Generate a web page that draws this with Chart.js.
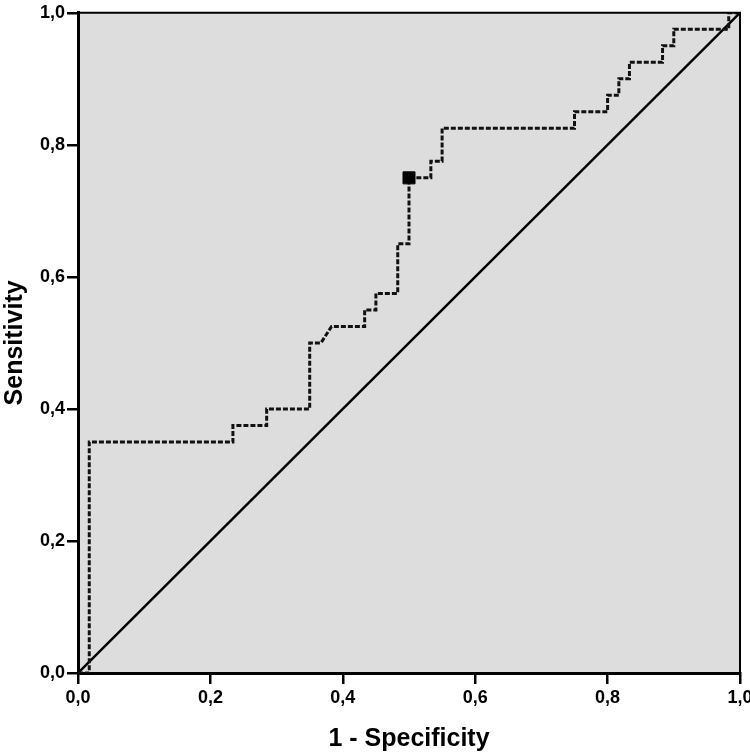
<!DOCTYPE html>
<html>
<head>
<meta charset="utf-8">
<script src="https://cdn.jsdelivr.net/npm/chart.js@4"></script>
<style>
	html, body { margin: 0; padding: 0; background: #fff; }
	#wrap { width: 750px; height: 755px; }
</style>
</head>
<body>
<div id="wrap"><canvas id="roc"></canvas></div>
<script>
// ROC curve coordinates (1 - specificity, sensitivity)
const rocFpr = [0, 0.017, 0.017, 0.234, 0.234, 0.285, 0.285, 0.35, 0.35, 0.367, 0.383, 0.433, 0.433, 0.45, 0.45, 0.483, 0.483, 0.5, 0.5, 0.533, 0.533, 0.55, 0.55, 0.75, 0.75, 0.8, 0.8, 0.817, 0.817, 0.833, 0.833, 0.883, 0.883, 0.9, 0.9, 0.983, 0.983, 1];
const rocTpr = [0, 0, 0.35, 0.35, 0.375, 0.375, 0.4, 0.4, 0.5, 0.5, 0.525, 0.525, 0.55, 0.55, 0.575, 0.575, 0.65, 0.65, 0.75, 0.75, 0.775, 0.775, 0.825, 0.825, 0.85, 0.85, 0.875, 0.875, 0.9, 0.9, 0.925, 0.925, 0.95, 0.95, 0.975, 0.975, 1, 1];
const refX = [0, 1];
const refY = [0, 1];
const cutX = [0.5];
const cutY = [0.75];
const tickValues = [0, 0.2, 0.4, 0.6, 0.8, 1];

const toPts = (xs, ys) => xs.map((x, i) => ({ x: x, y: ys[i] }));
const fmt = v => v.toFixed(1).replace('.', ',');

const frame = {
	id: 'frame',
	beforeDraw(chart) {
		const a = chart.chartArea, ctx = chart.ctx;
		ctx.save();
		ctx.fillStyle = '#dddddd';
		ctx.fillRect(a.left, a.top, a.right - a.left, a.bottom - a.top);
		ctx.restore();
	},
	afterDraw(chart) {
		const a = chart.chartArea, ctx = chart.ctx;
		ctx.save();
		ctx.strokeStyle = '#000';
		ctx.lineWidth = 2;
		ctx.beginPath();
		ctx.moveTo(a.left, a.top);
		ctx.lineTo(a.right, a.top);
		ctx.lineTo(a.right, a.bottom);
		ctx.stroke();
		ctx.restore();
	}
};

const tickFont = { family: 'Liberation Sans, Arial, sans-serif', size: 18, weight: 'bold' };
const titleFont = { family: 'Liberation Sans, Arial, sans-serif', size: 25, weight: 'bold' };

new Chart(document.getElementById('roc'), {
	type: 'scatter',
	data: {
		datasets: [
			{
				data: toPts(cutX, cutY),
				pointStyle: 'rect',
				pointRadius: 8.5,
				backgroundColor: '#000',
				borderColor: '#000',
				borderWidth: 1,
				showLine: false,
			},
			{
				data: toPts(rocFpr, rocTpr),
				showLine: true,
				borderColor: '#111',
				borderWidth: 3,
				borderDash: [5, 2],
				pointRadius: 0,
				tension: 0,
			},
			{
				data: toPts(refX, refY),
				showLine: true,
				borderColor: '#000',
				borderWidth: 2.5,
				pointRadius: 0,
			},
		],
	},
	options: {
		responsive: true,
		maintainAspectRatio: false,
		animation: false,
		layout: { padding: { top: 12, right: 10, left: 0, bottom: 0 } },
		plugins: { legend: { display: false }, tooltip: { enabled: false } },
		scales: {
			x: {
				type: 'linear',
				min: 0,
				max: 1,
				afterBuildTicks: s => { s.ticks = tickValues.map(v => ({ value: v })); },
				afterFit: s => { s.height = 82; s.paddingLeft = 0; s.paddingRight = 0; },
				ticks: { callback: fmt, color: '#000', font: tickFont, padding: 3 },
				grid: { drawOnChartArea: false, color: '#000', lineWidth: 2.5, tickLength: 11 },
				border: { color: '#000', width: 3 },
				title: { display: true, text: '1 - Specificity', color: '#000', font: titleFont, padding: { top: 10, bottom: 1 } },
			},
			y: {
				type: 'linear',
				min: 0,
				max: 1,
				afterBuildTicks: s => { s.ticks = tickValues.map(v => ({ value: v })); },
				afterFit: s => { s.width = 78; },
				ticks: { callback: fmt, color: '#000', font: tickFont, padding: 2 },
				grid: { drawOnChartArea: false, color: '#000', lineWidth: 2.5, tickLength: 11 },
				border: { color: '#000', width: 3 },
				title: { display: true, text: 'Sensitivity', color: '#000', font: titleFont, padding: 0 },
			},
		},
	},
	plugins: [frame],
});
</script>
</body>
</html>
